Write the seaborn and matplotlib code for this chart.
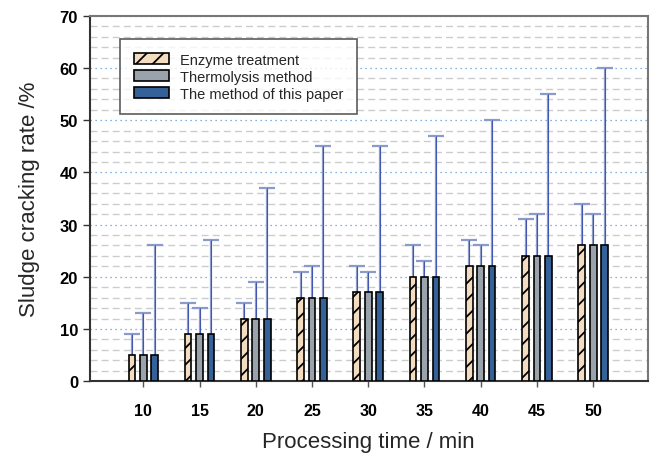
import matplotlib
matplotlib.use("Agg")
import matplotlib.pyplot as plt
import seaborn as sns
import pandas as pd
import numpy as np
from matplotlib.ticker import MultipleLocator

times = [10, 15, 20, 25, 30, 35, 40, 45, 50]
methods = ["Enzyme treatment", "Thermolysis method", "The method of this paper"]
enzyme = [5, 9, 12, 16, 17, 20, 22, 24, 26]
thermo = [5, 9, 12, 16, 17, 20, 22, 24, 26]
paper = [5, 9, 12, 16, 17, 20, 22, 24, 26]
enzyme_top = [9, 15, 15, 21, 22, 26, 27, 31, 34]
thermo_top = [13, 14, 19, 22, 21, 23, 26, 32, 32]
paper_top = [26, 27, 37, 45, 45, 47, 50, 55, 60]

colors = ["#fddcb8", "#97a3ae", "#2260a9"]

rows = []
for m, vals, tops in zip(methods, [enzyme, thermo, paper], [enzyme_top, thermo_top, paper_top]):
    for t, v, tp in zip(times, vals, tops):
        rows.append({"time": str(t), "method": m, "value": v, "top": tp})
df = pd.DataFrame(rows)

sns.set_style("white")
plt.rcParams["font.family"] = ["Liberation Sans", "DejaVu Sans"]
plt.rcParams["hatch.linewidth"] = 1.3

fig = plt.figure(figsize=(6.51, 4.56), dpi=100)
ax = fig.add_axes([0.138, 0.162, 0.857, 0.801])

sns.barplot(data=df, x="time", y="value", hue="method", hue_order=methods,
            palette=colors, width=0.61, edgecolor="black", linewidth=1.2,
            ax=ax, errorbar=None, zorder=3)

hatches = ["//", "", ""]
bar_w = 0.118
bar_conts = list(ax.containers)
for ci, cont in enumerate(bar_conts):
    m = methods[ci]
    sub = df[df["method"] == m]
    xs, ys, tops = [], [], []
    for bar, (_, r) in zip(cont.patches, sub.iterrows()):
        bar.set_hatch(hatches[ci])
        cx = bar.get_x() + bar.get_width() / 2
        bar.set_width(bar_w)
        bar.set_x(cx - bar_w / 2)
        xs.append(cx)
        ys.append(r["value"])
        tops.append(r["top"] - r["value"])
    yerr = np.array([np.zeros(len(tops)), tops])
    eb = ax.errorbar(xs, ys, yerr=yerr, fmt="none", ecolor="#8a9acb", elinewidth=1.6,
                     capsize=6, capthick=1.6, zorder=2)
    for cap in eb[1]:
        cap.set_color("#3f55b0")
        if np.allclose(np.asarray(cap.get_ydata(), dtype=float), np.asarray(ys, dtype=float)):
            cap.set_visible(False)
    ax.errorbar(xs, ys, yerr=yerr, fmt="none", ecolor="#3f55b0", elinewidth=0.7,
                capsize=0, zorder=2)

ax.set_ylim(0, 70)
ax.set_xlim(-0.95, 8.97)
ax.yaxis.set_major_locator(MultipleLocator(10))
ax.yaxis.set_minor_locator(MultipleLocator(2))
ax.grid(which="minor", axis="y", color="#cccccc", linestyle=(0, (5, 3)), linewidth=1.0, zorder=0)
ax.grid(which="major", axis="y", color="#5b9bd5", linestyle=(0, (1, 3)), linewidth=0.9, zorder=0)
ax.set_axisbelow(True)

ax.tick_params(axis="y", which="major", direction="out", length=5, width=1, left=True, colors="#333333", labelcolor="black", labelsize=12)
ax.tick_params(axis="y", which="minor", length=0)
ax.tick_params(axis="x", which="major", direction="out", length=4, width=1, bottom=True, colors="#555555", labelcolor="black", labelsize=11.5, pad=12)
for lbl in ax.get_xticklabels() + ax.get_yticklabels():
    lbl.set_fontweight("bold")

for s in ["left", "bottom"]:
    ax.spines[s].set_color("#333333")
    ax.spines[s].set_linewidth(1.5)
for s in ["top", "right"]:
    ax.spines[s].set_color("#777777")
    ax.spines[s].set_linewidth(1.5)

ax.set_xlabel("Processing time / min", fontsize=16, labelpad=9)
ax.set_ylabel("Sludge cracking rate /%", fontsize=16, labelpad=14)

handles, labels = ax.get_legend_handles_labels()
leg = ax.legend(handles, labels, loc="upper left", bbox_to_anchor=(0.054, 0.937),
                fontsize=10.5, frameon=True, fancybox=False, edgecolor="#333333",
                handlelength=2.4, handleheight=0.75, handletextpad=0.75,
                borderpad=0.95, labelspacing=0.2, borderaxespad=0)
leg.get_frame().set_linewidth(1.2)
for h, hat in zip(leg.legend_handles, hatches):
    h.set_hatch(hat)
    h.set_edgecolor("black")

fig.savefig("out.png", dpi=100)
